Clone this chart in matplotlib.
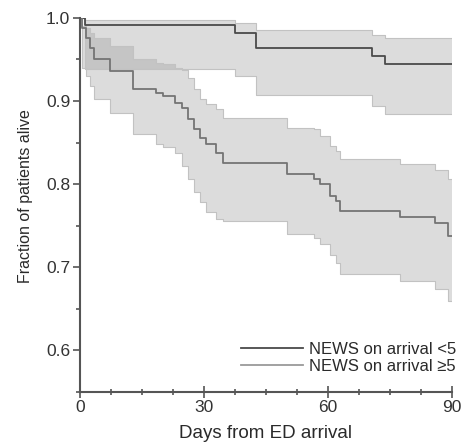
import matplotlib
matplotlib.use("Agg")
import matplotlib.pyplot as plt
import numpy as np

plt.rcParams['font.family'] = ['Liberation Sans', 'DejaVu Sans']

# NEWS on arrival <5
days_lo = [0, 1.2, 37.5, 42.7, 70.6, 73.8, 90]
surv_lo = [1.0, 0.991, 0.982, 0.964, 0.954, 0.945, 0.945]
upper_lo = [1.0, 0.998, 0.994, 0.986, 0.980, 0.976, 0.976]
lower_lo = [1.0, 0.939, 0.930, 0.907, 0.894, 0.884, 0.884]

# NEWS on arrival >=5
days_hi = [0, 0.5, 1.5, 2.5, 3.5, 7.3, 12.9, 18.5, 20, 23, 24.6, 26.2, 27.5,
           29, 30.6, 33, 34.5, 50, 56.5, 58, 60.5, 62, 63, 77.4, 86, 89.1, 90]
surv_hi = [1.0, 0.988, 0.976, 0.964, 0.951, 0.936, 0.914, 0.910, 0.906, 0.898,
           0.892, 0.878, 0.866, 0.856, 0.848, 0.838, 0.826, 0.812, 0.806, 0.800,
           0.786, 0.780, 0.768, 0.760, 0.753, 0.738, 0.738]
upper_hi = [1.0, 0.990, 0.988, 0.982, 0.976, 0.966, 0.950, 0.946, 0.944, 0.940,
            0.937, 0.928, 0.915, 0.902, 0.897, 0.890, 0.880, 0.868, 0.866, 0.858,
            0.846, 0.840, 0.830, 0.824, 0.817, 0.806, 0.806]
lower_hi = [1.0, 0.940, 0.930, 0.918, 0.902, 0.886, 0.860, 0.848, 0.845, 0.838,
            0.822, 0.806, 0.790, 0.778, 0.766, 0.758, 0.7555, 0.740, 0.735, 0.728,
            0.715, 0.705, 0.692, 0.684, 0.674, 0.660, 0.660]

labels = ['NEWS on arrival <5', 'NEWS on arrival \u22655']

fig = plt.figure(figsize=(4.61, 4.48), dpi=100)
ax = fig.add_axes([0.1735, 0.125, 0.807, 0.835])

band = '#a0a0a0'
for t, lo, hi in [(days_lo, lower_lo, upper_lo), (days_hi, lower_hi, upper_hi)]:
    ax.fill_between(t, lo, hi, step='post', color=band, alpha=0.37, lw=0)
    ax.step(t, lo, where='post', color='#c2c2c2', lw=0.8)
    ax.step(t, hi, where='post', color='#c2c2c2', lw=0.8)

l1, = ax.step(days_lo, surv_lo, where='post', color='#4a4a4a', lw=1.3)
l2, = ax.step(days_hi, surv_hi, where='post', color='#747474', lw=1.3)

leg = ax.legend([l1, l2], labels, loc='lower right', bbox_to_anchor=(1.03, 0.03),
                frameon=False, fontsize=12, handlelength=3.7, labelspacing=0.15,
                handletextpad=0.4, borderaxespad=0)
for txt in leg.get_texts():
    txt.set_color('#2a2a2a')
leg.get_lines()[1].set_color('#9a9a9a')

ax.set_xlim(0, 90)
ax.set_ylim(0.55, 1.0)
ax.set_xticks([0, 30, 60, 90])
ax.set_xticks(np.arange(0, 91, 7.5), minor=True)
ax.set_yticks([0.6, 0.7, 0.8, 0.9, 1.0])
ax.set_yticks(np.arange(0.55, 1.001, 0.05), minor=True)
ax.set_yticklabels(['0.6', '0.7', '0.8', '0.9', '1.0'])

for side in ['top', 'right']:
    ax.spines[side].set_visible(False)
for side in ['left', 'bottom']:
    ax.spines[side].set_color('#555555')
    ax.spines[side].set_linewidth(1.5)

ax.tick_params(axis='y', which='major', direction='out', length=5, width=1.2,
               color='#555555', labelsize=12.5, labelcolor='#333333', pad=2)
ax.tick_params(axis='y', which='minor', direction='out', length=3, width=1.2,
               color='#555555')
ax.tick_params(axis='x', which='major', direction='inout', length=8, width=1.2,
               color='#555555', labelsize=12.5, labelcolor='#333333', pad=2)
ax.tick_params(axis='x', which='minor', direction='inout', length=4, width=1.2,
               color='#555555')

ax.set_xlabel('Days from ED arrival', fontsize=13.5, color='#2a2a2a', labelpad=7)
ax.set_ylabel('Fraction of patients alive', fontsize=11.5, color='#2a2a2a')
ax.yaxis.set_label_coords(-0.125, 0.524)

fig.savefig('out.png', dpi=100)
